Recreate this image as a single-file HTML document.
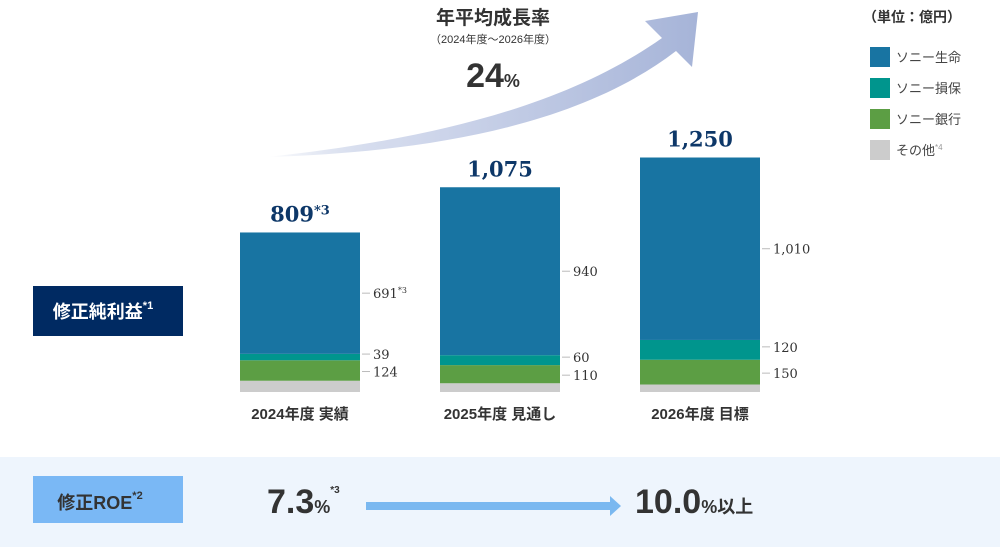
<!DOCTYPE html>
<html><head><meta charset="utf-8">
<style>
body{margin:0;width:1000px;height:547px;overflow:hidden;background:#fff;font-family:"Liberation Sans","Noto Sans CJK JP",sans-serif;}
svg{display:block}
</style></head>
<body>
<svg width="1000" height="547" viewBox="0 0 1000 547" xmlns="http://www.w3.org/2000/svg">
<defs>
<linearGradient id="ag" x1="0" y1="0" x2="1" y2="0">
<stop offset="0" stop-color="#aab8da" stop-opacity="0"/>
<stop offset="0.3" stop-color="#d3daed"/>
<stop offset="1" stop-color="#a6b4d8"/>
</linearGradient>
</defs>
<path d="M268,157 C420,140 560,110 662,38 L645,21 L698,12 L692,67 L676,51 C580,125 430,152 268,157 Z" fill="url(#ag)"/>
<text x="493" y="24" text-anchor="middle" font-size="19" font-weight="bold" fill="#333">年平均成長率</text>
<text x="493" y="43" text-anchor="middle" font-size="11" fill="#333">（2024年度～2026年度）</text>
<text x="493" y="87" text-anchor="middle" font-weight="bold" fill="#333"><tspan font-size="34">24</tspan><tspan font-size="18">%</tspan></text>

<text x="912" y="22" text-anchor="middle" font-size="14" font-weight="bold" fill="#333">（単位：億円）</text>
<g id="legend"></g>

<rect x="33" y="286" width="150" height="50" fill="#002a62"/>
<text x="103" y="318" text-anchor="middle" font-size="18" font-weight="bold" fill="#fff">修正純利益<tspan font-size="11" dy="-9">*1</tspan></text>

<g id="bars"></g>

<rect x="0" y="457" width="1000" height="90" fill="#eef5fd"/>
<rect x="33" y="476" width="150" height="47" fill="#7ab8f5"/>
<text x="100" y="509" text-anchor="middle" font-size="18" font-weight="bold" fill="#333">修正ROE<tspan font-size="11" dy="-10">*2</tspan></text>
<text x="267" y="513" font-weight="bold" fill="#333"><tspan font-size="34">7.3</tspan><tspan font-size="18">%</tspan><tspan font-size="10" dy="-20">*3</tspan></text>
<rect x="366" y="502" width="246" height="8" fill="#7ab8f0"/>
<polygon points="610,496 621,506 610,516" fill="#7ab8f0"/>
<text x="635" y="513" font-weight="bold" fill="#333"><tspan font-size="34">10.0</tspan><tspan font-size="18">%以上</tspan></text>
</svg>
<script>
const categories=["2024年度 実績","2025年度 見通し","2026年度 目標"];
const totals=[809,1075,1250];
const totalNotes=["*3","",""];
const lifeVals=[691,940,1010];
const lifeNotes=["*3","",""];
const insVals=[39,60,120];
const bankVals=[124,110,150];
const otherVals=[-45,-35,-30];
const legendLabels=["ソニー生命","ソニー損保","ソニー銀行","その他"];
const colors=["#1874a2","#00958d","#5c9e44","#cccccc"];
const NS="http://www.w3.org/2000/svg";
const baseY=392, barW=120, x0=240, step=200;
function xPos(i){return x0+i*step;}
function totalH(v){return 22+0.17*v;}
function segH(v){return v*0.165;}
function grayH(v){return Math.abs(v)*0.25;}
function mk(tag,attrs,parent){const e=document.createElementNS(NS,tag);for(const k in attrs)e.setAttribute(k,attrs[k]);parent.appendChild(e);return e;}
const bars=document.getElementById('bars');
categories.forEach((c,i)=>{
  const x=xPos(i);
  const g=mk('g',{},bars);
  
  
  const top=baseY-totalH(totals[i]);
  const gh=grayH(otherVals[i]);
  const gy=baseY-gh;
  const bh=segH(bankVals[i]); const by=gy-bh;
  const ih=segH(insVals[i]); const iy=by-ih;
  let r=mk('rect',{x:x,y:gy,width:barW,height:gh,fill:colors[3]},g);
  
  
  r=mk('rect',{x:x,y:by,width:barW,height:bh,fill:colors[2]},g);
  
  
  r=mk('rect',{x:x,y:iy,width:barW,height:ih,fill:colors[1]},g);
  
  
  r=mk('rect',{x:x,y:top,width:barW,height:iy-top,fill:colors[0]},g);
  
  
  const labs=[[lifeVals[i],(top+iy)/2,lifeNotes[i],'life'],[insVals[i],iy+ih/2-3,'','insurance'],[bankVals[i],by+bh/2+1,'','bank']];
  labs.forEach(l=>{
    const ln=mk('line',{x1:x+barW+2,x2:x+barW+10,y1:l[1],y2:l[1],stroke:'#bbb'},g);
    
    
    const t=mk('text',{x:x+barW+13,y:l[1]+5,'font-size':13,fill:'#333','font-family':'DejaVu Serif,serif'},g);
    
    
    t.textContent=l[0].toLocaleString('en-US');
    if(l[2]){const s=mk('tspan',{'font-size':8,dy:-5},t);s.textContent=l[2];}
  });
  const tt=mk('text',{x:x+barW/2,y:top-11,'text-anchor':'middle','font-size':21,'font-weight':'bold',fill:'#0d3768','font-family':'DejaVu Serif,serif'},g);
  
  
  tt.textContent=totals[i].toLocaleString('en-US');
  if(totalNotes[i]){const s=mk('tspan',{'font-size':13,dy:-7},tt);s.textContent=totalNotes[i];}
  const cl=mk('text',{x:x+barW/2,y:419,'text-anchor':'middle','font-size':15,'font-weight':'bold',fill:'#333'},g);
  
  
  cl.textContent=c;
});
const leg=document.getElementById('legend');
legendLabels.forEach((l,i)=>{
  const y=47+i*31;
  const r=mk('rect',{x:870,y:y,width:20,height:20,fill:colors[i]},leg);
  
  
  const t=mk('text',{x:896,y:y+15,'font-size':13,fill:'#444'},leg);
  
  
  t.textContent=l;
  if(i===3){const s=mk('tspan',{'font-size':8,dy:-5,fill:'#999'},t);s.textContent='*4';}
});
</script>
</body></html>
